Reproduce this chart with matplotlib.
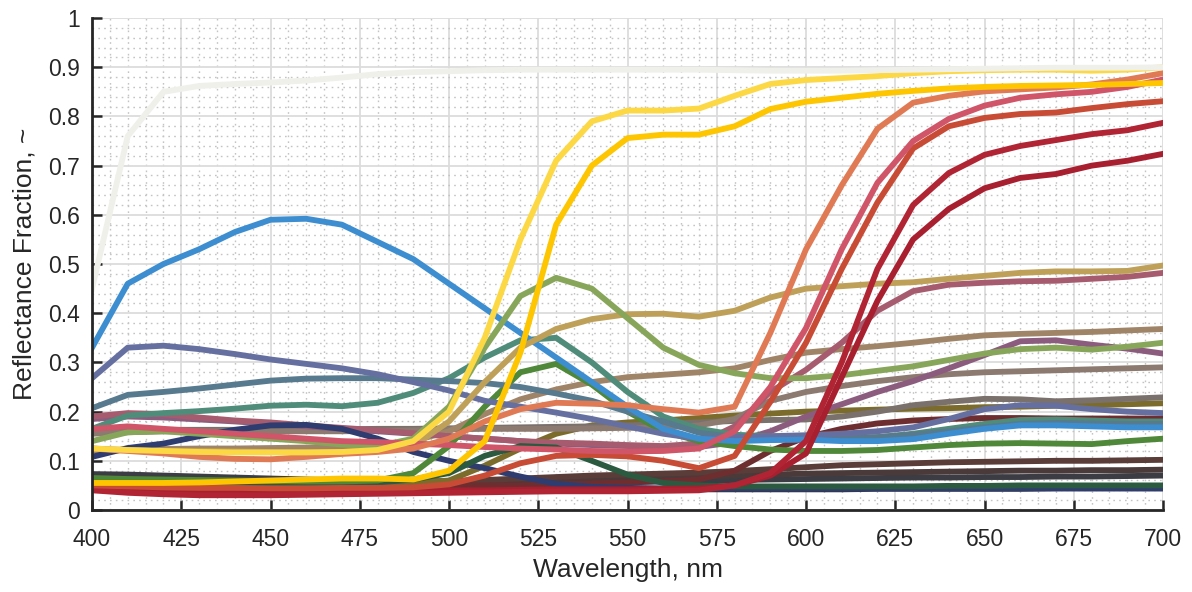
import numpy as np
import matplotlib
matplotlib.use('Agg')
import matplotlib.pyplot as plt
from matplotlib.ticker import MultipleLocator

plt.rcParams['font.family'] = ['Liberation Sans', 'DejaVu Sans']

# wavelengths, nm
wl = np.arange(400, 701, 10)

# reflectance curves (400..700 nm every 10 nm)
white = [.45, .76, .85, .862, .866, .869, .873, .879, .886, .89, .892, .894, .895, .895, .895, .895, .895, .895, .894, .893, .893, .893, .894, .895, .896, .897, .898, .899, .899, .899, .9]
light_yellow = [.125, .122, .12, .118, .117, .117, .117, .118, .122, .14, .2, .35, .55, .71, .79, .812, .812, .816, .842, .866, .874, .878, .882, .888, .892, .894, .895, .895, .893, .895, .9]
yellow = [.055, .055, .055, .056, .058, .06, .062, .064, .064, .062, .08, .14, .32, .58, .70, .756, .763, .763, .78, .815, .83, .838, .846, .852, .857, .86, .862, .863, .864, .866, .868]
blue = [.33, .46, .50, .53, .565, .59, .592, .58, .545, .51, .46, .41, .36, .31, .26, .21, .165, .145, .14, .142, .143, .14, .14, .144, .155, .165, .172, .172, .17, .168, .168]
slate = [.268, .33, .334, .327, .317, .306, .297, .288, .276, .26, .243, .222, .21, .198, .185, .17, .155, .145, .148, .15, .152, .155, .16, .168, .185, .205, .213, .212, .205, .2, .197]
blue_gray = [.207, .234, .24, .247, .255, .263, .267, .268, .268, .265, .262, .258, .25, .237, .222, .2, .18, .157, .148, .145, .145, .146, .148, .153, .16, .168, .175, .177, .176, .175, .175]
orange = [.125, .12, .115, .108, .104, .103, .108, .114, .118, .125, .145, .18, .205, .218, .216, .213, .205, .198, .21, .36, .53, .66, .775, .828, .842, .851, .855, .859, .865, .875, .888]
pink = [.165, .17, .165, .16, .155, .15, .145, .14, .138, .135, .132, .128, .125, .123, .12, .119, .12, .125, .16, .25, .37, .53, .665, .75, .795, .822, .838, .845, .85, .86, .875]
red_orange = [.05, .048, .046, .045, .045, .044, .044, .045, .045, .046, .052, .07, .095, .11, .112, .109, .1, .085, .11, .22, .34, .49, .625, .735, .78, .797, .805, .808, .817, .825, .831]
crimson1 = [.04, .035, .032, .03, .03, .03, .031, .032, .033, .034, .035, .036, .037, .038, .038, .038, .039, .04, .05, .075, .14, .30, .49, .62, .685, .722, .74, .752, .764, .772, .787]
crimson2 = [.045, .04, .037, .035, .035, .035, .036, .037, .038, .038, .04, .04, .041, .042, .042, .042, .043, .044, .05, .07, .115, .27, .425, .55, .612, .654, .675, .683, .70, .71, .724]
olive_green = [.14, .158, .16, .155, .15, .145, .14, .133, .13, .145, .21, .33, .435, .472, .45, .39, .33, .295, .278, .268, .268, .274, .283, .292, .305, .318, .327, .33, .326, .332, .34]
tan = [.125, .122, .12, .12, .119, .118, .118, .118, .12, .13, .18, .26, .33, .368, .388, .398, .399, .393, .405, .432, .45, .455, .46, .463, .47, .476, .482, .485, .485, .486, .497]
teal = [.165, .192, .197, .201, .206, .212, .214, .211, .218, .238, .268, .31, .345, .35, .30, .24, .19, .165, .153, .15, .148, .146, .148, .155, .165, .175, .183, .184, .182, .18, .18]
green = [.065, .063, .062, .061, .06, .059, .058, .058, .06, .075, .13, .21, .28, .297, .255, .2, .16, .14, .13, .123, .12, .12, .122, .127, .132, .135, .136, .135, .134, .14, .145]
dark_green = [.055, .055, .055, .055, .055, .055, .055, .055, .056, .062, .075, .11, .13, .127, .1, .072, .055, .05, .048, .048, .048, .048, .048, .048, .049, .049, .05, .05, .05, .05, .05]
navy = [.108, .126, .135, .15, .163, .172, .173, .165, .145, .118, .1, .085, .068, .053, .047, .045, .044, .044, .044, .044, .044, .044, .044, .044, .044, .044, .044, .044, .044, .044, .044]
light_brown = [.12, .122, .124, .125, .125, .126, .127, .128, .13, .14, .16, .195, .225, .245, .26, .27, .275, .28, .288, .305, .32, .327, .333, .34, .348, .355, .358, .36, .362, .365, .368]
mauve = [.19, .197, .195, .188, .182, .178, .172, .167, .162, .156, .15, .145, .14, .137, .135, .132, .13, .135, .17, .24, .285, .34, .405, .445, .458, .462, .465, .466, .47, .474, .482]
purple = [.185, .19, .188, .184, .18, .175, .17, .165, .16, .155, .15, .145, .14, .135, .132, .13, .128, .128, .138, .16, .19, .215, .24, .262, .288, .315, .343, .345, .336, .328, .318]
gray_brown = [.155, .158, .16, .16, .16, .16, .16, .16, .161, .162, .164, .165, .165, .165, .166, .167, .168, .172, .185, .222, .24, .252, .262, .27, .276, .28, .282, .284, .286, .288, .29]
olive = [.05, .05, .05, .05, .05, .05, .05, .051, .052, .055, .06, .09, .125, .155, .172, .178, .182, .187, .192, .196, .2, .202, .204, .206, .207, .209, .21, .212, .213, .215, .217]
taupe = [.16, .162, .163, .163, .163, .163, .163, .164, .165, .165, .166, .167, .168, .169, .17, .172, .175, .178, .181, .183, .184, .19, .2, .213, .22, .226, .225, .221, .223, .226, .229]
maroon = [.05, .05, .05, .05, .05, .05, .05, .05, .05, .05, .05, .05, .05, .052, .054, .056, .058, .062, .08, .12, .148, .165, .176, .182, .185, .187, .187, .186, .186, .186, .186]
dark_brown = [.065, .063, .061, .06, .059, .058, .058, .058, .058, .058, .059, .061, .064, .067, .07, .072, .074, .076, .079, .083, .087, .091, .093, .095, .097, .098, .099, .1, .1, .101, .102]
dark_red_brown = [.06, .058, .056, .055, .054, .054, .054, .054, .054, .054, .055, .056, .058, .06, .062, .064, .066, .068, .07, .072, .074, .075, .076, .077, .078, .079, .08, .08, .081, .081, .082]
dark_gray = [.073, .072, .07, .068, .066, .064, .062, .06, .058, .056, .055, .055, .055, .056, .057, .058, .059, .06, .061, .062, .063, .064, .065, .066, .066, .067, .067, .068, .068, .069, .07]
near_black = [.042, .042, .042, .042, .042, .042, .042, .042, .042, .042, .042, .042, .042, .042, .042, .042, .042, .042, .042, .042, .042, .042, .043, .043, .043, .043, .043, .044, .044, .044, .044]

# draw order: bottom first
curves = [
    (near_black, '#343842'), (dark_gray, '#3c3c44'), (dark_red_brown, '#4a3a3a'),
    (dark_brown, '#5a3c38'), (maroon, '#6e2e30'), (olive, '#7c6c2c'),
    (taupe, '#7a706c'), (gray_brown, '#8c7a70'), (light_brown, '#a08468'),
    (purple, '#8c5c7e'), (mauve, '#a65c6e'), (navy, '#2e3c70'),
    (dark_green, '#2b5a40'), (green, '#4e8838'), (teal, '#4f8c7a'),
    (blue_gray, '#577a8e'), (slate, '#6670a0'), (blue, '#3d8ed0'),
    (tan, '#bea058'), (olive_green, '#88a65a'),
    (crimson2, '#a81f30'), (crimson1, '#b02433'), (red_orange, '#c84b35'),
    (pink, '#d05568'), (orange, '#e07a55'),
    (yellow, '#fdc600'), (light_yellow, '#fdd845'), (white, '#f0f0ea'),
]

fig = plt.figure(figsize=(11.92, 5.92), dpi=100)
ax = fig.add_axes([0.0772, 0.1385, 0.8985, 0.831])

for vals, col in curves:
    ax.plot(wl, vals, color=col, lw=4.2, solid_joinstyle='round')

ax.set_xlim(400, 700)
ax.set_ylim(0, 1)
ax.xaxis.set_major_locator(MultipleLocator(25))
ax.xaxis.set_minor_locator(MultipleLocator(5))
ax.yaxis.set_minor_locator(MultipleLocator(0.02))
ax.set_yticks(np.arange(0, 1.01, 0.1))
ax.set_yticklabels(['0', '0.1', '0.2', '0.3', '0.4', '0.5', '0.6', '0.7', '0.8', '0.9', '1'])

ax.grid(which='major', color='#dcdcdc', lw=1.3, ls='-')
ax.grid(which='minor', color='#c4c4c4', lw=1.0, ls=(0, (1.2, 3)))
ax.set_axisbelow(True)

for s in ['top', 'right']:
    ax.spines[s].set_visible(False)
for s in ['left', 'bottom']:
    ax.spines[s].set_color('#262626')
    ax.spines[s].set_linewidth(2)

ax.tick_params(which='major', direction='in', length=7.5, width=1.8, color='#262626',
               labelsize=16.5, labelcolor='#262626')
ax.tick_params(axis='x', pad=13)
ax.tick_params(axis='y', pad=9)
ax.tick_params(which='minor', length=0)

ax.set_xlabel('Wavelength, nm', fontsize=19, color='#262626', labelpad=5)
ax.set_ylabel('Reflectance Fraction, ~', fontsize=19, color='#262626', labelpad=8)

fig.savefig('out.png', dpi=100)
